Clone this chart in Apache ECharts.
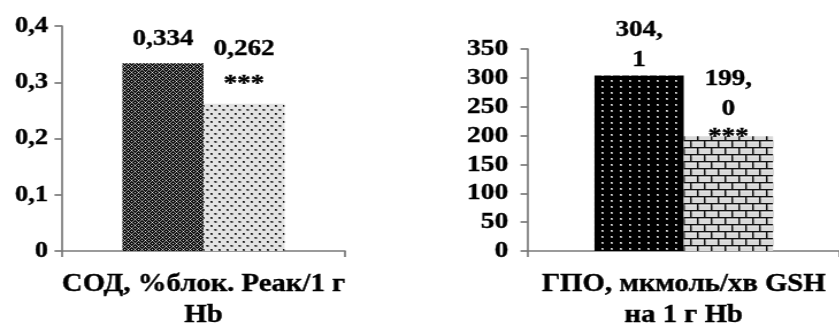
<!DOCTYPE html>
<html>
<head>
<meta charset="utf-8">
<script src="https://cdn.jsdelivr.net/npm/echarts@6/dist/echarts.min.js"></script>
<style>
  html, body { margin: 0; padding: 0; background: #fff; overflow: hidden; }
  #wrap { width: 839px; height: 331px; overflow: hidden; }
  #chart { width: 730px; height: 331px; transform: scaleX(1.15); transform-origin: 0 0; }
</style>
</head>
<body>
<div id="wrap"><div id="chart"></div></div>
<script>
// ---- data ----
const sodCategory = ['СОД, %блок. Реак/1 г\nHb'];
const gpoCategory = ['ГПО, мкмоль/хв GSH\nна 1 г Hb'];
const sodControl = [0.334];
const sodGroup = [0.262];
const gpoControl = [304.1];
const gpoGroup = [199.0];
const significance = ['', '***'];   // control, group
const sodTicks = [0, 0.1, 0.2, 0.3, 0.4];
const gpoTicks = [0, 50, 100, 150, 200, 250, 300, 350];

// ---- patterns ----
function makePattern(w, h, draw) {
  const c = document.createElement('canvas');
  c.width = w; c.height = h;
  const ctx = c.getContext('2d');
  draw(ctx, w, h);
  return { image: c, repeat: 'repeat' };
}
const patCross = makePattern(6, 6, (ctx) => {
  ctx.fillStyle = '#111'; ctx.fillRect(0, 0, 6, 6);
  for (let y = 0; y < 6; y++) {
    for (let x = 0; x < 6; x++) {
      const a = (x + y) % 6 === 0, b = (x - y + 6) % 6 === 0;
      if (a && b) { ctx.fillStyle = '#e8e8e8'; ctx.fillRect(x, y, 1, 1); }
      else if (a || b) { ctx.fillStyle = '#8c8c8c'; ctx.fillRect(x, y, 1, 1); }
    }
  }
  ctx.fillStyle = '#bdbdbd';
  ctx.fillRect(3, 0, 1, 1); ctx.fillRect(0, 3, 1, 1);
});
const patDots = makePattern(7, 8, (ctx) => {
  ctx.fillStyle = '#e3e3e3'; ctx.fillRect(0, 0, 7, 8);
  ctx.fillStyle = '#4a4a4a';
  ctx.fillRect(1, 1, 2, 2); ctx.fillRect(4.5, 5, 2, 2);
  ctx.fillStyle = '#111';
  ctx.fillRect(1, 1, 1, 1); ctx.fillRect(4.5, 5, 1, 1);
});
const patBlackDots = makePattern(8, 6, (ctx) => {
  ctx.fillStyle = '#000'; ctx.fillRect(0, 0, 8, 6);
  ctx.fillStyle = '#9a9a9a';
  ctx.fillRect(3, 2, 2, 2);
  ctx.fillStyle = '#e0e0e0';
  ctx.fillRect(3, 2, 1, 1);
});
const patBrick = makePattern(12, 14, (ctx) => {
  ctx.fillStyle = '#d9d9d9'; ctx.fillRect(0, 0, 12, 14);
  ctx.fillStyle = '#111';
  ctx.fillRect(0, 0, 12, 1.6);
  ctx.fillRect(0, 7, 12, 1.6);
  ctx.fillRect(0, 0, 1.5, 7);
  ctx.fillRect(6, 7, 1.5, 7);
  ctx.fillStyle = '#f6f6f6';
  ctx.fillRect(1.5, 1.6, 10.5, 0.8);
  ctx.fillRect(0, 8.6, 6, 0.8); ctx.fillRect(7.5, 8.6, 4.5, 0.8);
});

// ---- helpers ----
const FONT = '"Liberation Serif", "Times New Roman", serif';
const boldText = { fontFamily: FONT, fontWeight: 'bold', color: '#000', textBorderColor: '#000', textBorderWidth: 0.4 };
function fmt(v, digits, wrap) {
  const s = v.toFixed(digits).replace('.', ',');
  if (!wrap) return [s];
  const i = s.indexOf(',');
  return [s.slice(0, i + 1), s.slice(i + 1)];
}
function labelFor(digits, wrap, sig, starLH, distance) {
  return {
    show: true, position: 'top', distance: distance,
    formatter: (p) => {
      const lines = fmt(p.value, digits, wrap).map(t => '{v|' + t + '}');
      if (sig) lines.push('{s|' + sig + '}');
      return lines.join('\n');
    },
    rich: {
      v: Object.assign({ fontSize: 23.5, lineHeight: 30 }, boldText),
      s: Object.assign({ fontSize: 23.5, lineHeight: starLH }, boldText)
    }
  };
}
const axisLineStyle = { color: '#7a7a7a', width: 1.7 };

const option = {
  animation: false,
  backgroundColor: '#fff',
  grid: [
    { left: 53.9, width: 246.1, top: 26, height: 230 },
    { left: 459.1, width: 276.5, top: 49, height: 209 }
  ],
  xAxis: [
    { type: 'category', gridIndex: 0, data: sodCategory,
      axisLine: { lineStyle: axisLineStyle }, axisTick: { show: true, length: 6, lineStyle: axisLineStyle },
      axisLabel: Object.assign({ margin: 18, fontSize: 25, lineHeight: 31 }, boldText) },
    { type: 'category', gridIndex: 1, data: gpoCategory,
      axisLine: { lineStyle: axisLineStyle }, axisTick: { show: true, length: 6, lineStyle: axisLineStyle },
      axisLabel: Object.assign({ margin: 18, fontSize: 25, lineHeight: 31 }, boldText) }
  ],
  yAxis: [
    { type: 'value', gridIndex: 0, min: sodTicks[0], max: sodTicks[sodTicks.length - 1], interval: sodTicks[1] - sodTicks[0],
      splitLine: { show: false },
      axisLine: { show: true, lineStyle: axisLineStyle }, axisTick: { show: true, length: 6.5, lineStyle: axisLineStyle },
      axisLabel: Object.assign({ margin: 12.2, fontSize: 23,
        formatter: (v) => String(Math.round(v * 10) / 10).replace('.', ',') }, boldText) },
    { type: 'value', gridIndex: 1, min: gpoTicks[0], max: gpoTicks[gpoTicks.length - 1], interval: gpoTicks[1] - gpoTicks[0],
      splitLine: { show: false },
      axisLine: { show: true, lineStyle: axisLineStyle }, axisTick: { show: true, length: 6.5, lineStyle: axisLineStyle },
      axisLabel: Object.assign({ margin: 17, fontSize: 24 }, boldText) }
  ],
  series: [
    { type: 'bar', xAxisIndex: 0, yAxisIndex: 0, data: sodControl,
      itemStyle: { color: patCross }, barGap: '0%', barCategoryGap: '42.7%',
      label: labelFor(3, false, significance[0], 30, 9) },
    { type: 'bar', xAxisIndex: 0, yAxisIndex: 0, data: sodGroup,
      itemStyle: { color: patDots }, barGap: '0%', barCategoryGap: '42.7%',
      label: labelFor(3, false, significance[1], 40, 0) },
    { type: 'bar', xAxisIndex: 1, yAxisIndex: 1, data: gpoControl,
      itemStyle: { color: patBlackDots }, barGap: '0%', barCategoryGap: '42.7%',
      label: labelFor(1, true, significance[0], 30, 1) },
    { type: 'bar', xAxisIndex: 1, yAxisIndex: 1, data: gpoGroup,
      itemStyle: { color: patBrick }, barGap: '0%', barCategoryGap: '42.7%',
      label: labelFor(1, true, significance[1], 26, -14) }
  ]
};
const chart = echarts.init(document.getElementById('chart'), null, { renderer: 'canvas' });
chart.setOption(option);
</script>
</body>
</html>
